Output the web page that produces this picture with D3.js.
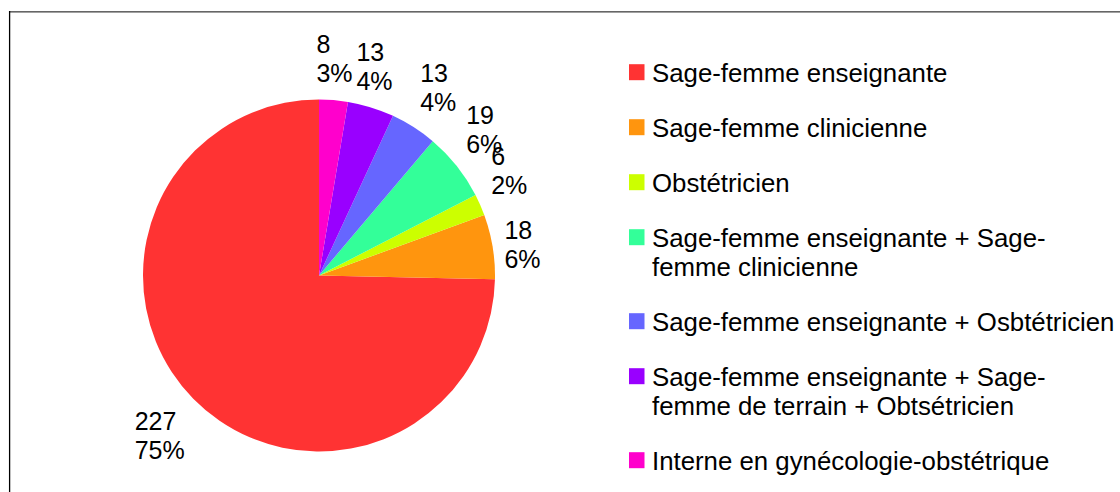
<!DOCTYPE html>
<html><head><meta charset="utf-8">
<script src="https://cdn.jsdelivr.net/npm/d3@7"></script>
<style>html,body{margin:0;padding:0;background:#fff;}svg{display:block;}</style>
</head><body>
<svg id="chart" width="1120" height="492"></svg>
<script>
const categories = [
  "Sage-femme enseignante",
  "Sage-femme clinicienne",
  "Obstétricien",
  "Sage-femme enseignante + Sage-femme clinicienne",
  "Sage-femme enseignante + Osbtétricien",
  "Sage-femme enseignante + Sage-femme de terrain + Obtsétricien",
  "Interne en gynécologie-obstétrique"
];
const legendLines = [
  ["Sage-femme enseignante"],
  ["Sage-femme clinicienne"],
  ["Obstétricien"],
  ["Sage-femme enseignante + Sage-", "femme clinicienne"],
  ["Sage-femme enseignante + Osbtétricien"],
  ["Sage-femme enseignante + Sage-", "femme de terrain + Obtsétricien"],
  ["Interne en gynécologie-obstétrique"]
];
const values = [227, 18, 6, 19, 13, 13, 8];
const colors = ["#ff3333", "#ff950e", "#ccff00", "#33ff99", "#6666ff", "#9900ff", "#ff00cc"];

const svg = d3.select("#chart");
const W = 1120, H = 492;
const font = "Liberation Sans, Arial, sans-serif";
const fs = 25, lfs = 25.8, lh = 29;

svg.append("rect").attr("width", W).attr("height", H).attr("fill", "#fff");
// frame
svg.append("line").attr("x1", 9).attr("x2", W).attr("y1", 11.5).attr("y2", 11.5).attr("stroke", "#666").attr("stroke-width", 1);
svg.append("line").attr("x1", 9).attr("x2", W).attr("y1", 12.5).attr("y2", 12.5).attr("stroke", "#a0a0a0").attr("stroke-width", 1);
svg.append("line").attr("x1", 9.6).attr("x2", 9.6).attr("y1", 11).attr("y2", H).attr("stroke", "#000").attr("stroke-width", 1.3);

const cx = 319, cy = 275.5, r = 176;
const total = d3.sum(values);
const pie = d3.pie().sort(null).startAngle(2 * Math.PI).endAngle(0);
const arcs = pie(values);
const arc = d3.arc().innerRadius(0).outerRadius(r);

const g = svg.append("g").attr("transform", `translate(${cx},${cy})`);
g.selectAll("path").data(arcs).join("path")
  .attr("d", arc)
  .attr("fill", (d, i) => colors[i]);

// labels
const R = r + 12;
const fmtPct = v => Math.round(v / total * 100) + "%";
arcs.forEach((d, i) => {
  let mid = (d.startAngle + d.endAngle) / 2;
  mid = ((mid % (2 * Math.PI)) + 2 * Math.PI) % (2 * Math.PI);
  const px = R * Math.sin(mid), py = -R * Math.cos(mid);
  const lg = g.append("g");
  const lines = [String(values[i]), fmtPct(values[i])];
  const texts = lines.map((t, k) => lg.append("text")
    .attr("x", 0).attr("y", 23 + k * lh)
    .attr("font-family", font).attr("font-size", fs).attr("fill", "#000")
    .text(t));
  const w = d3.max(texts, t => t.node().getComputedTextLength());
  const h = 2 * lh;
  const oct = Math.round(mid / (Math.PI / 4)) % 8;
  let tx, ty;
  switch (oct) {
    case 0: tx = px - w / 2; ty = py - h; break;
    case 1: tx = px; ty = py - h; break;
    case 2: tx = px; ty = py - h / 2; break;
    case 3: tx = px; ty = py; break;
    case 4: tx = px - w / 2; ty = py; break;
    case 5: tx = px - w; ty = py; break;
    case 6: tx = px - w; ty = py - h / 2; break;
    default: tx = px - w; ty = py - h;
  }
  lg.attr("transform", `translate(${tx},${ty})`);
});

// legend
const leg = svg.append("g");
let by = 81.7;
legendLines.forEach((lines, i) => {
  leg.append("rect").attr("x", 629).attr("y", by - 17.5).attr("width", 15.5).attr("height", 16)
    .attr("fill", colors[i]);
  lines.forEach((t, k) => {
    leg.append("text").attr("x", 652).attr("y", by + k * lh)
      .attr("font-family", font).attr("font-size", lfs).attr("fill", "#000")
      .text(t);
  });
  by += 55 + (lines.length - 1) * lh;
});
</script>
</body></html>
